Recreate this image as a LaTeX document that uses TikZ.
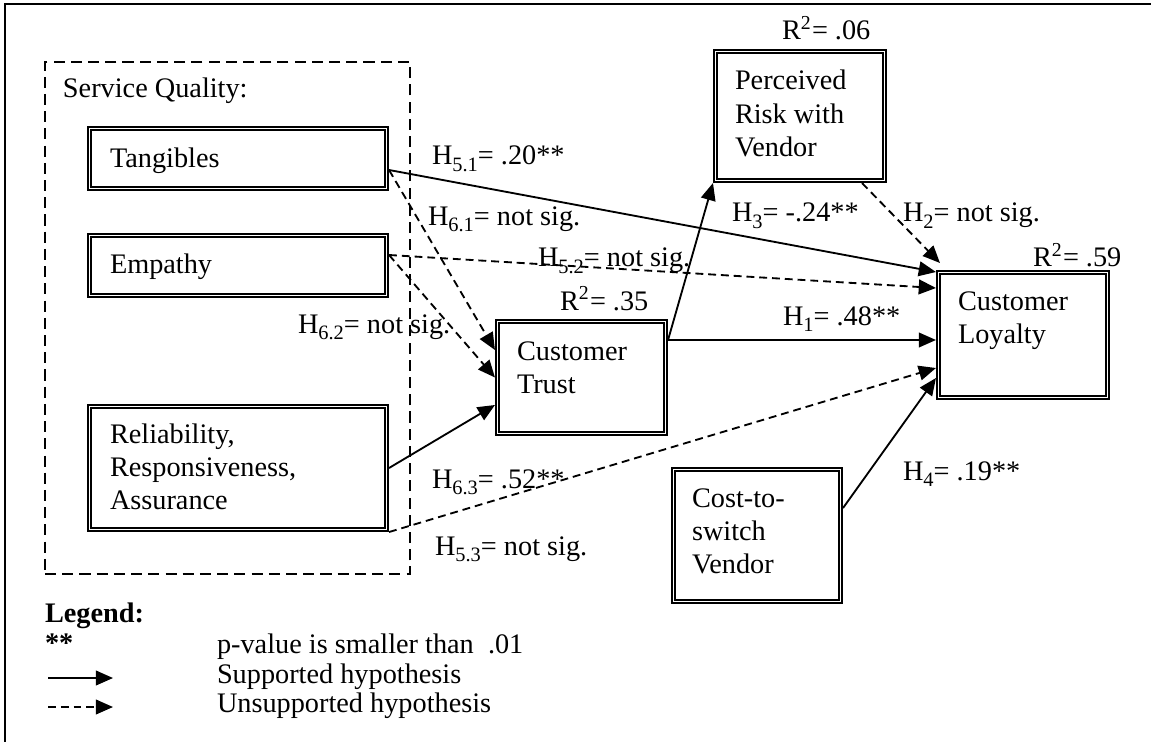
\documentclass[tikz,border=0pt]{standalone}
\usepackage{fontspec}
\setmainfont{Liberation Serif}
\usetikzlibrary{arrows.meta}
\newcommand\uu{0.4066pt}
\newcommand\Hs[2]{H\raisebox{-2.6pt}{\fontsize{8.3}{9}\selectfont #1}= #2}
\newcommand\Rsq[1]{R\textsuperscript{2}= #1}
\newcommand\ml[1]{\parbox[t]{110pt}{\raggedright #1}}
\begin{document}
\begin{tikzpicture}[x=0.4066pt, y=-0.4066pt,
  font=\fontsize{11.5}{13.6}\selectfont,
  dbox/.style={draw, line width=0.65pt, double=white, double distance=0.75pt,
    inner sep=0pt, outer sep=1.03pt, rectangle},
  lbl/.style={anchor=base west, inner sep=0pt, outer sep=0pt},
  sol/.style={line width=0.75pt, -{Triangle[length=7pt,width=6pt]}},
  das/.style={sol, dash pattern=on 3.2pt off 2pt}]
\useasboundingbox (0,0) rectangle (1151,742);
% frame
\draw[line width=0.9pt] (1151,4) -- (5,4) -- (5,742);
% service quality group
\node[draw, line width=0.75pt, dash pattern=on 4.5pt off 2.5pt, minimum width=365*\uu, minimum height=512*\uu, inner sep=0pt] (sq) at (227.5,318) {};
\node[lbl] (sqT) at (63,98) {Service Quality:};
% boxes
\node[dbox, minimum width=297*\uu, minimum height=60*\uu] (tang) at (238,158.5) {};
\node[dbox, minimum width=297*\uu, minimum height=60*\uu] (emp) at (238,265.5) {};
\node[dbox, minimum width=297*\uu, minimum height=123*\uu] (rel) at (238,468) {};
\node[dbox, minimum width=168*\uu, minimum height=112*\uu] (trust) at (581.5,377.5) {};
\node[dbox, minimum width=169*\uu, minimum height=129*\uu] (risk) at (800,116) {};
\node[dbox, minimum width=169*\uu, minimum height=125*\uu] (loyal) at (1023,335) {};
\node[dbox, minimum width=167*\uu, minimum height=132*\uu] (cost) at (757,535.5) {};
% box texts
\node[lbl] (tangT) at (110,167) {Tangibles};
\node[lbl] (empT) at (110,273) {Empathy};
\node[lbl] (relT) at (110,443) {\ml{Reliability,\\Responsiveness,\\Assurance}};
\node[lbl] (trustT) at (517,360) {\ml{Customer\\Trust}};
\node[lbl] (riskT) at (735,90) {\ml{Perceived\\Risk with\\Vendor}};
\node[lbl] (loyalT) at (958,310) {\ml{Customer\\Loyalty}};
\node[lbl] (costT) at (692,507) {\ml{Cost-to-\\switch\\Vendor}};
% connectors
\draw[sol] ([yshift=-11.5*\uu]tang.east) -- ([yshift=63*\uu]loyal.west);
\draw[das] ([yshift=-11.5*\uu]tang.east) -- ([yshift=27.5*\uu]trust.west);
\draw[das] ([yshift=10.5*\uu]emp.east) -- ([yshift=47*\uu]loyal.west);
\draw[das] ([yshift=10.5*\uu]emp.east) -- (trust.west);
\draw[sol] (rel.east) -- ([yshift=-27.5*\uu]trust.west);
\draw[das] (rel.south east) -- ([yshift=-33*\uu]loyal.west);
\draw[sol] ([yshift=37.5*\uu]trust.east) -- (risk.south west);
\draw[sol] ([yshift=37.5*\uu]trust.east) -- ([yshift=-5*\uu]loyal.west);
\draw[das] ([xshift=62*\uu]risk.south) -- ([xshift=4*\uu,yshift=72*\uu]loyal.west);
\draw[sol] ([yshift=27.5*\uu]cost.east) -- ([yshift=-43*\uu]loyal.west);
% labels
\node[lbl] (l51) at (432,165) {\Hs{5.1}{.20**}};
\node[lbl] (l61) at (428,225) {\Hs{6.1}{not sig.}};
\node[lbl] (l52) at (538,267) {\Hs{5.2}{not sig.}};
\node[lbl] (l62) at (298,333) {\Hs{6.2}{not sig.}};
\node[lbl] (r35) at (560,310) {\Rsq{.35}};
\node[lbl] (l3) at (732,222) {\Hs{3}{-.24**}};
\node[lbl] (l2) at (903,222) {\Hs{2}{not sig.}};
\node[lbl] (r59) at (1033,267) {\Rsq{.59}};
\node[lbl] (l1) at (783,325) {\Hs{1}{.48**}};
\node[lbl] (l4) at (903,480) {\Hs{4}{.19**}};
\node[lbl] (l63) at (432,488) {\Hs{6.3}{.52**}};
\node[lbl] (l53) at (435,555) {\Hs{5.3}{not sig.}};
\node[lbl] (r06) at (782,40) {\Rsq{.06}};
% legend
\node[lbl, font=\fontsize{11.5}{13.6}\selectfont\bfseries] (legT) at (45,622) {Legend:};
\node[lbl, font=\fontsize{11.5}{13.6}\selectfont\bfseries] (legS) at (45,652) {**};
\node[lbl] (legP) at (217,653) {p-value is smaller than\ \ .01};
\node[lbl] (legA) at (217,683) {Supported hypothesis};
\node[lbl] (legB) at (217,712) {Unsupported hypothesis};
\coordinate (a1) at (48,678);
\coordinate (a2) at (113,678);
\coordinate (b1) at (48,707);
\coordinate (b2) at (113,707);
\draw[sol] (a1) -- (a2);
\draw[das] (b1) -- (b2);
\end{tikzpicture}
\end{document}
